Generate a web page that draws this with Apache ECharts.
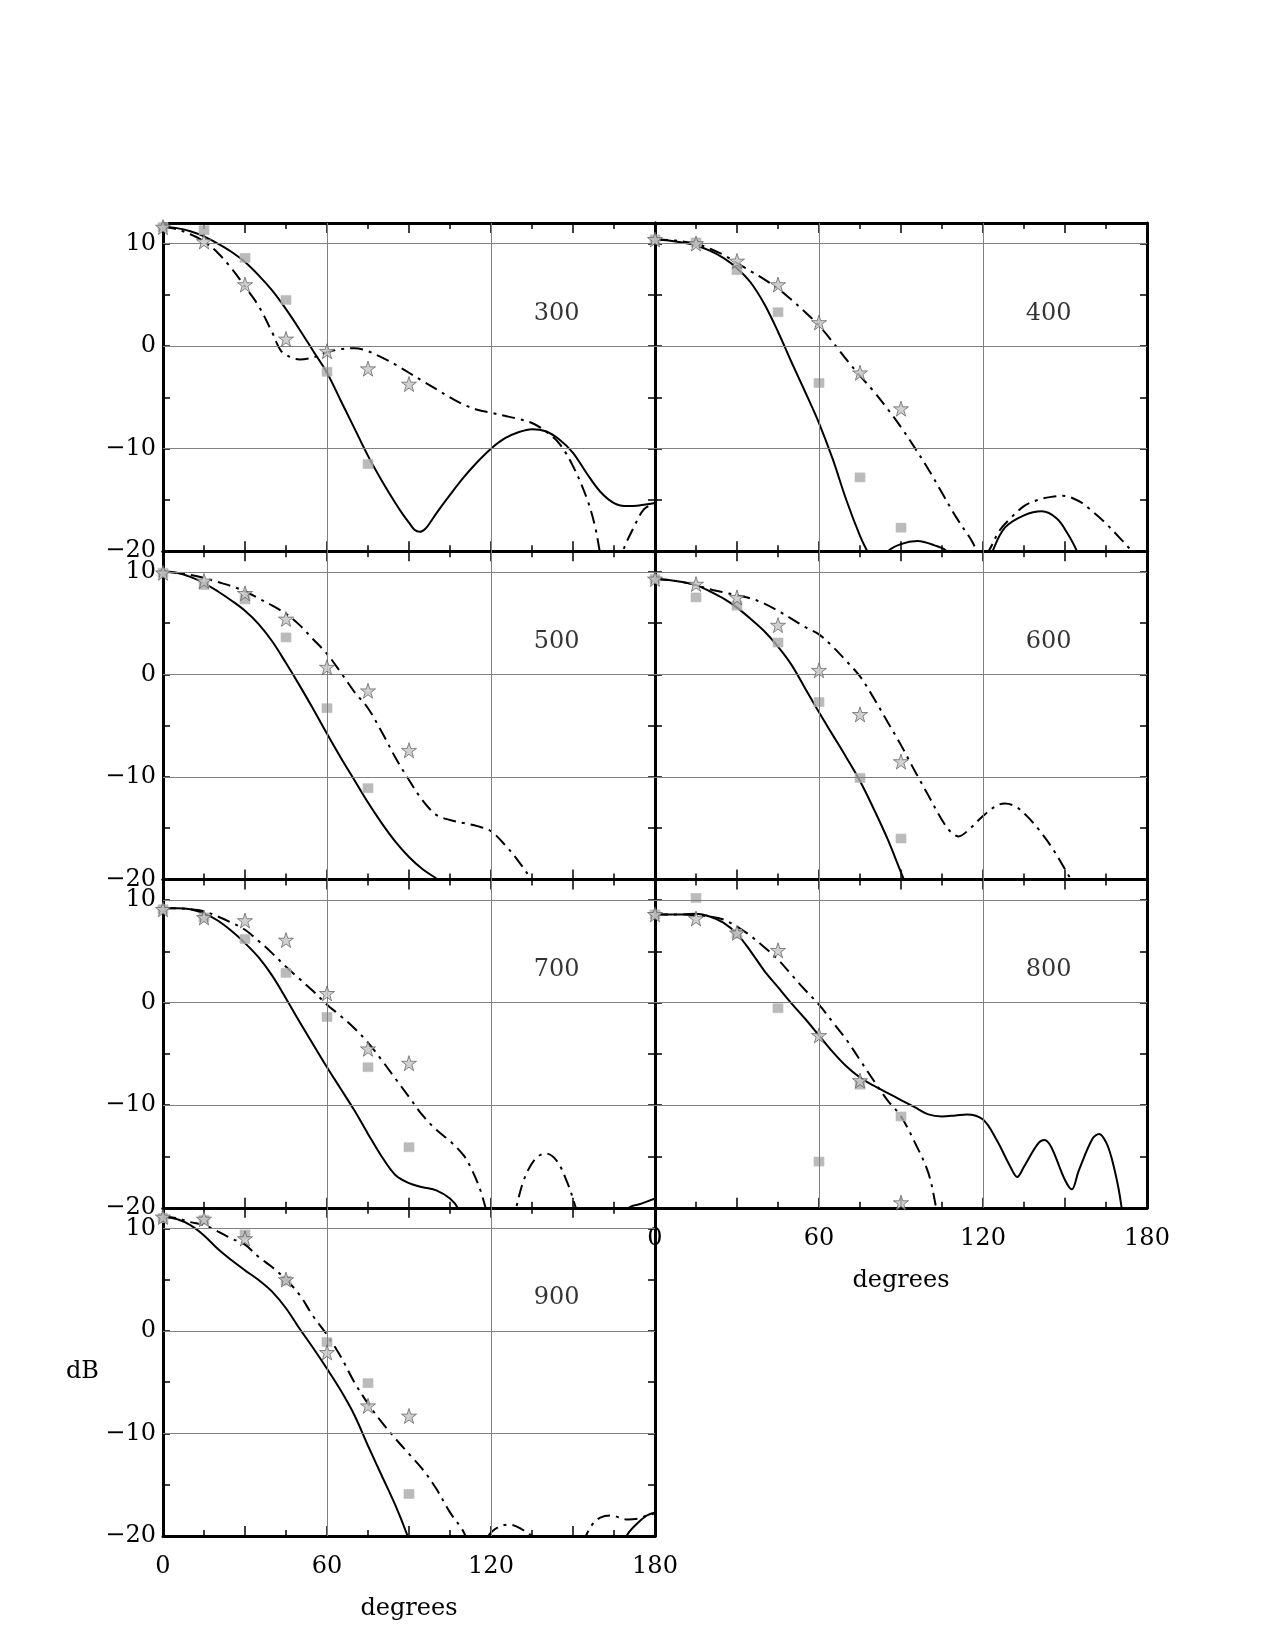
<!DOCTYPE html>
<html>
<head>
<meta charset="utf-8">
<script src="https://cdn.jsdelivr.net/npm/echarts@6/dist/echarts.min.js"></script>
<style>
  html, body { margin: 0; padding: 0; background: #fff; }
  #chart { width: 1275px; height: 1650px; }
</style>
</head>
<body>
<div id="chart"></div>
<script>
// measured angles for the two sets of markers
const angles = [0, 15, 30, 45, 60, 75, 90];
const xLabelTicks = [0, 60, 120, 180];
const yLabelTicks = [-20, -10, 0, 10];
const xGridLines = [60, 120];
const yGridLines = [10, 0, -10];
const freqLabels = ['300', '400', '500', '600', '700', '800', '900'];
const labelPos = [144, 3.2];

// solid curves [degrees, dB]
const solid300 = [[0,11.6],[5,11.5],[10,11.2],[15,10.7],[20,10.0],[25,9.2],[30,8.2],[35,6.9],[40,5.4],[45,3.6],[50,1.6],[55,-0.5],[60,-2.6],[65,-5.3],[70,-8.0],[75,-10.7],[80,-13.1],[85,-15.3],[88,-16.5],[90,-17.2],[92,-17.9],[94,-18.1],[96,-17.8],[98,-17.1],[100,-16.3],[105,-14.5],[110,-12.8],[115,-11.3],[120,-10.0],[125,-9.0],[130,-8.4],[135,-8.1],[140,-8.3],[145,-9.1],[150,-10.4],[155,-12.4],[160,-14.2],[165,-15.3],[170,-15.6],[175,-15.5],[180,-15.3]];
const solid400 = [[0,10.4],[5,10.3],[10,10.1],[15,9.8],[20,9.3],[25,8.6],[30,7.6],[35,6.2],[40,4.1],[45,1.4],[50,-1.6],[55,-4.5],[60,-7.5],[65,-11.0],[70,-15.0],[75,-18.5],[78,-20.2],[82,-22.5],[85,-20.1],[90,-19.3],[96,-19.0],[102,-19.4],[107,-20.1],[112,-24],[118,-26],[121,-22],[123.5,-20],[128,-17.7],[135,-16.5],[141.5,-16.1],[147,-16.8],[151,-18.3],[154.5,-20.1],[158,-23]];
const solid500 = [[0,10.0],[5,9.9],[10,9.5],[15,8.9],[20,8.1],[25,7.2],[30,6.2],[35,4.9],[40,3.2],[45,1.1],[50,-1.1],[55,-3.4],[60,-5.8],[65,-8.1],[70,-10.3],[75,-12.5],[80,-14.5],[85,-16.3],[90,-17.8],[95,-19.0],[100,-19.9],[103,-20.5]];
const solid600 = [[0,9.3],[5,9.2],[10,9.0],[15,8.7],[20,8.1],[25,7.4],[30,6.5],[35,5.4],[40,4.2],[45,2.7],[50,0.9],[55,-1.4],[60,-3.7],[65,-5.9],[70,-8.1],[75,-10.4],[80,-13.1],[85,-16.0],[90,-19.3],[92,-20.6]];
const solid700 = [[0,9.2],[5,9.2],[10,9.1],[15,8.7],[20,8.0],[25,7.0],[30,5.8],[35,4.4],[40,2.6],[45,0.4],[50,-1.9],[55,-4.1],[60,-6.3],[65,-8.4],[70,-10.5],[75,-12.8],[80,-15.0],[85,-16.8],[90,-17.6],[95,-18.0],[100,-18.3],[105,-19.1],[108,-20.1],[112,-23],[130,-30],[150,-30],[165,-23],[170,-20.1],[175,-19.6],[180,-19.1]];
const solid800 = [[0,8.6],[5,8.6],[10,8.6],[15,8.65],[20,8.4],[25,7.8],[30,6.7],[35,5.0],[40,3.1],[45,1.5],[50,-0.1],[55,-1.6],[60,-3.2],[65,-4.8],[70,-6.2],[75,-7.3],[80,-8.1],[85,-8.8],[90,-9.5],[95,-10.2],[100,-10.9],[105,-11.1],[110,-11.0],[114,-10.9],[120,-11.4],[125,-13.4],[130,-16.0],[132.5,-17.0],[135,-16.0],[140,-13.8],[142.5,-13.4],[145,-14.1],[150,-17.3],[152.5,-18.2],[155,-16.4],[160,-13.3],[162.5,-12.8],[165,-13.6],[167,-15.1],[169.5,-18.0],[171,-20.5],[173,-24]];
const solid900 = [[0,11.1],[5,10.9],[10,10.3],[15,9.3],[20,8.0],[25,6.9],[30,5.9],[35,4.95],[40,3.8],[45,2.2],[50,0.2],[55,-1.7],[60,-3.7],[65,-5.8],[70,-8.2],[75,-11.2],[80,-14.1],[85,-17.0],[89.5,-20.0],[92,-22],[120,-30],[150,-30],[165,-23],[169.6,-20],[173,-18.9],[177,-18.0],[180,-17.7]];

// dash-dot curves [degrees, dB]
const dash300 = [[0,11.6],[5,11.4],[10,10.9],[15,10.2],[20,9.1],[25,7.6],[30,5.8],[35,3.9],[40,1.3],[43,-0.4],[46,-1.0],[50,-1.3],[55,-1.1],[60,-0.6],[65,-0.3],[70,-0.2],[75,-0.5],[80,-1.1],[85,-1.8],[90,-2.6],[95,-3.4],[100,-4.2],[105,-5.0],[110,-5.7],[115,-6.2],[120,-6.5],[125,-6.8],[130,-7.1],[135,-7.5],[140,-8.3],[145,-9.5],[150,-11.7],[155,-14.8],[158,-17.5],[160,-20.3],[163,-24],[166,-23],[168,-20.2],[172,-17.8],[176,-15.9],[180,-15.3]];
const dash400 = [[0,10.4],[5,10.35],[10,10.2],[15,10.0],[20,9.5],[25,8.9],[30,8.1],[35,7.3],[40,6.5],[45,5.6],[50,4.5],[55,3.3],[60,2.0],[65,0.4],[70,-1.3],[75,-2.9],[80,-4.4],[85,-6.1],[90,-7.9],[95,-9.9],[100,-12.0],[105,-14.3],[110,-16.6],[115,-18.6],[120,-20.4],[122,-20.0],[126,-18.0],[130,-16.8],[135,-15.6],[140,-15.0],[145,-14.7],[149,-14.6],[155,-15.1],[160,-16.1],[165,-17.3],[170,-18.7],[174,-19.9],[177,-21.5]];
const dash500 = [[0,10.0],[5,9.9],[10,9.7],[15,9.4],[20,9.0],[25,8.6],[30,8.1],[35,7.4],[40,6.7],[45,5.9],[50,4.8],[55,3.4],[60,2.0],[65,0.2],[70,-1.7],[75,-3.3],[80,-5.6],[85,-8.1],[90,-10.3],[95,-12.3],[100,-13.7],[105,-14.2],[110,-14.5],[115,-14.8],[120,-15.3],[125,-16.6],[130,-18.2],[135,-20.1],[137,-21]];
const dash600 = [[0,9.3],[5,9.2],[10,9.0],[15,8.7],[20,8.3],[25,8.0],[30,7.7],[35,7.4],[40,6.9],[45,6.2],[50,5.4],[55,4.6],[60,3.9],[65,2.7],[70,1.3],[75,-0.2],[80,-2.3],[85,-4.6],[90,-6.9],[95,-9.4],[100,-11.8],[105,-14.2],[108,-15.3],[111,-15.8],[115,-15.1],[120,-13.8],[125,-12.8],[128,-12.6],[132,-12.9],[136,-13.8],[140,-15.0],[145,-16.8],[150,-19.0],[153,-20.4]];
const dash700 = [[0,9.2],[5,9.2],[10,9.1],[15,8.9],[20,8.4],[25,7.8],[30,7.1],[35,6.0],[40,4.8],[45,3.5],[50,2.3],[55,1.1],[60,-0.2],[65,-1.3],[70,-2.5],[75,-3.9],[80,-5.6],[85,-7.4],[90,-9.2],[95,-11.0],[100,-12.4],[105,-13.5],[110,-14.9],[113,-16.3],[116,-18.2],[118,-20.0],[121,-23],[125,-24],[129,-20.2],[132,-17.3],[136,-15.3],[140,-14.7],[144,-15.4],[148,-17.6],[151,-20.0],[154,-23]];
const dash800 = [[0,8.6],[5,8.6],[10,8.6],[15,8.5],[20,8.4],[25,8.1],[30,7.4],[35,6.5],[40,5.4],[45,4.2],[50,2.7],[55,1.2],[60,-0.2],[65,-1.9],[70,-3.6],[75,-5.6],[80,-7.6],[85,-9.5],[90,-11.1],[95,-13.6],[100,-16.6],[103,-20.2],[105,-23]];
const dash900 = [[0,11.1],[5,11.0],[10,10.6],[15,10.3],[20,9.7],[25,9.0],[30,8.4],[35,7.2],[40,6.2],[45,5.0],[50,3.5],[55,1.4],[60,-0.4],[65,-2.5],[70,-5.0],[75,-7.1],[80,-8.9],[85,-10.5],[90,-12.0],[95,-13.5],[100,-15.4],[105,-17.7],[110,-19.6],[112,-21],[116,-22],[119,-20],[123,-19.1],[127,-18.9],[131,-19.3],[135,-20.1],[140,-23],[150,-23],[154.7,-20],[157,-18.9],[160,-18.2],[164,-18.0],[167,-18.2],[170,-18.4],[174,-18.3],[177,-18.0],[180,-17.8]];

// square markers (dB at each angle), null = off the chart
const squares300 = [11.6, 11.3, 8.6, 4.5, -2.5, -11.5, null];
const squares400 = [10.4, 10.1, 7.4, 3.3, -3.6, -12.8, -17.7];
const squares500 = [9.9, 8.7, 7.3, 3.6, -3.3, -11.1, null];
const squares600 = [9.3, 7.5, 6.7, 3.1, -2.7, -10.1, -16.0];
const squares700 = [9.1, 8.3, 6.2, 2.9, -1.4, -6.3, -14.1];
const squares800 = [8.6, 10.2, 6.7, -0.55, -15.5, -8.0, -11.1];
const squares900 = [11.0, 10.8, 9.4, 4.9, -1.1, -5.1, -15.9];

// star markers
const stars300 = [11.6, 10.2, 6.0, 0.7, -0.5, -2.2, -3.7];
const stars400 = [10.4, 10.0, 8.3, 6.0, 2.3, -2.6, -6.1];
const stars500 = [9.9, 9.1, 7.9, 5.4, 0.7, -1.6, -7.4];
const stars600 = [9.3, 8.8, 7.5, 4.8, 0.4, -3.9, -8.5];
const stars700 = [9.1, 8.3, 8.0, 6.1, 0.9, -4.5, -5.9];
const stars800 = [8.6, 8.2, 6.8, 5.1, -3.2, -7.6, -19.5];
const stars900 = [11.1, 10.9, 9.0, 5.0, -2.1, -7.3, -8.3];

const solidCurves = [solid300, solid400, solid500, solid600, solid700, solid800, solid900];
const dashCurves = [dash300, dash400, dash500, dash600, dash700, dash800, dash900];
const squareSets = [squares300, squares400, squares500, squares600, squares700, squares800, squares900];
const starSets = [stars300, stars400, stars500, stars600, stars700, stars800, stars900];

const FONT = 'DejaVu Serif';
const STAR = 'path://M50,2 L61,36 L97,36 L68,57 L79,92 L50,71 L21,92 L32,57 L3,36 L39,36 Z';

function fmtDb(v) {
    return v < 0 ? '\u2212' + (-v) : String(v);
}

function frameLine() {
    return {show: true, onZero: false, lineStyle: {color: '#000', width: 3}};
}

function pairs(vals) {
    return angles.map((a, k) => [a, vals[k]]).filter(p => p[1] !== null);
}

const grids = [], xAxes = [], yAxes = [], series = [];

freqLabels.forEach((lab, i) => {
    const col = i % 2, row = Math.floor(i / 2);
    grids.push({left: col ? 655 : 163, top: 223 + row * 328.25, width: 492, height: 328.25});
    const showX = (i === 5 || i === 6);
    const showY = col === 0;
    const tick = {inside: true, length: 10, lineStyle: {color: '#000', width: 1.5}};
    const minor = {show: true, splitNumber: 2, length: 6, lineStyle: {color: '#000', width: 1.5}};
    const yTick = {inside: true, length: 7, lineStyle: {color: '#000', width: 1.5}};

    ['bottom', 'top'].forEach(pos => {
        xAxes.push({
            gridIndex: i, type: 'value', position: pos, min: 0, max: 180, interval: 30,
            axisLine: frameLine(), axisTick: tick, minorTick: minor,
            splitLine: {show: false},
            axisLabel: {
                show: pos === 'bottom' && showX, margin: 19,
                fontFamily: FONT, fontSize: 24, color: '#000',
                formatter: v => xLabelTicks.includes(v) ? String(v) : ''
            },
            name: (pos === 'bottom' && showX) ? 'degrees' : '',
            nameLocation: 'middle', nameGap: 61,
            nameTextStyle: {fontFamily: FONT, fontSize: 24, color: '#000'}
        });
    });
    ['left', 'right'].forEach(pos => {
        yAxes.push({
            gridIndex: i, type: 'value', position: pos, min: -20, max: 12, interval: 5,
            axisLine: frameLine(), axisTick: yTick,
            splitLine: {show: false},
            axisLabel: {
                show: pos === 'left' && showY, margin: 7,
                fontFamily: FONT, fontSize: 24, color: '#000',
                formatter: v => yLabelTicks.includes(v) ? fmtDb(v) : ''
            },
            name: (pos === 'left' && i === 6) ? 'dB' : '',
            nameLocation: 'middle', nameGap: 64, nameRotate: 0,
            nameTextStyle: {fontFamily: FONT, fontSize: 24, color: '#000'}
        });
    });

    const xi = 2 * i, yi = 2 * i;
    // thin grid lines
    series.push({
        type: 'line', xAxisIndex: xi, yAxisIndex: yi, data: [], silent: true, z: 1,
        markLine: {
            silent: true, symbol: ['none', 'none'], animation: false,
            label: {show: false},
            lineStyle: {color: '#808080', width: 1, type: 'solid'},
            data: xGridLines.map(v => ({xAxis: v})).concat(yGridLines.map(v => ({yAxis: v})))
        }
    });
    series.push({
        type: 'line', xAxisIndex: xi, yAxisIndex: yi, data: solidCurves[i],
        smooth: 0.35, symbol: 'none', clip: true, z: 3,
        lineStyle: {color: '#000', width: 2}
    });
    series.push({
        type: 'line', xAxisIndex: xi, yAxisIndex: yi, data: dashCurves[i],
        smooth: 0.35, symbol: 'none', clip: true, z: 3,
        lineStyle: {color: '#000', width: 2, type: [13, 6, 3, 6]}
    });
    series.push({
        type: 'scatter', xAxisIndex: xi, yAxisIndex: yi, data: pairs(squareSets[i]),
        symbol: 'rect', symbolSize: [10, 9], z: 4,
        itemStyle: {color: '#a9a9a9', borderColor: '#bdbdbd', borderWidth: 0.8}
    });
    series.push({
        type: 'scatter', xAxisIndex: xi, yAxisIndex: yi, data: pairs(starSets[i]),
        symbol: STAR, symbolSize: 15, z: 5,
        itemStyle: {color: '#c4c4c4', borderColor: '#5a5a5a', borderWidth: 0.9}
    });
    series.push({
        type: 'scatter', xAxisIndex: xi, yAxisIndex: yi, data: [labelPos],
        symbolSize: 1, silent: true, z: 6,
        itemStyle: {color: 'rgba(0,0,0,0)'},
        label: {show: true, position: 'inside', formatter: lab, fontFamily: FONT, fontSize: 24, color: '#000'}
    });
});

const chart = echarts.init(document.getElementById('chart'));
chart.setOption({
    backgroundColor: '#fff',
    animation: false,
    grid: grids,
    xAxis: xAxes,
    yAxis: yAxes,
    series: series
});
</script>
</body>
</html>
